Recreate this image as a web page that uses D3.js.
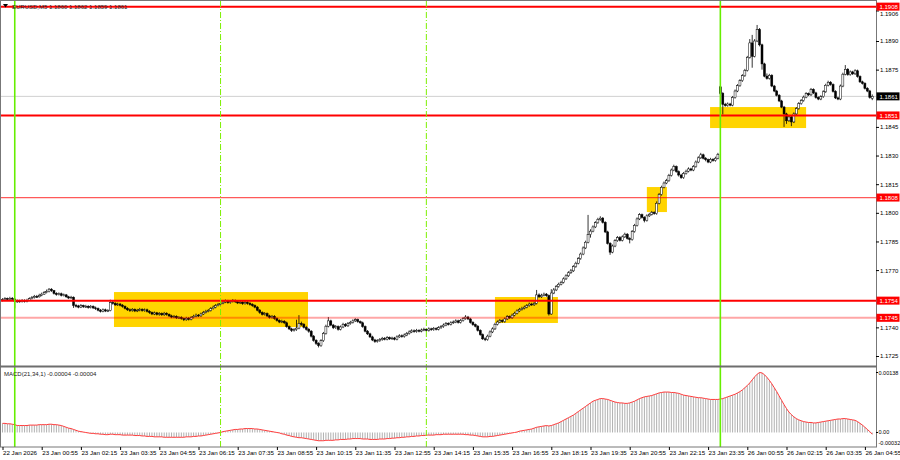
<!DOCTYPE html>
<html>
<head>
<meta charset="utf-8">
<script src="https://cdn.jsdelivr.net/npm/d3@7"></script>
<style>
body { margin: 0; background: #fff; }
svg text { font-family: "Liberation Sans", Arial, sans-serif; }
</style>
</head>
<body>
<div class="chart"></div>
<script>
// EURUSD M5 bars, prices as pips above 1.1700 (bar 0 = 22 Jan 23:35)
var openP = [
54,54.5,55,54.6,55.2,54.8,53.5,53.8,53.5,54,
53.6,54.2,55,55.6,56.2,56,56.8,57.4,58.2,58.8,
60,59.2,57.8,57.2,57.6,56.8,57,56,55.4,55.8,
51.5,51.2,50.6,51.4,50.8,51,50.4,51,50.2,49.8,
49,48.4,49.2,48.6,48.8,53,52.6,51.8,52.2,51.6,
51,50,49.2,48.8,49.4,48.6,49,49.4,48.8,49.2,
48.4,47.8,47,47.6,46.8,47.2,46.6,47.4,46.8,46,
45.4,45.8,45,45.2,44.6,44,44.8,44.2,45.2,45.8,
46.4,46,47,47.8,48.4,48.8,49.8,50.6,51.4,52,
52.6,53.2,53.8,53,53.6,54,53.4,52.8,53.2,52.4,
53,52.6,52,51.4,50.6,49,47.8,46.8,47.2,46,
45.2,45.8,44.6,43.6,42.8,43.2,42.4,40.4,39.2,38.4,
38.8,39.6,42,41.6,40,39,38,35.4,33.2,31.6,
30.4,33,36.8,40.6,43.4,41.2,39.8,40.4,39,40.2,
41.6,40.8,42,42.6,43.4,44,43,42.4,40.4,38,
36.6,35,33.4,32.6,33,33.6,34.2,33.8,34.6,34,
34.4,33.8,35,35.6,35.2,36,36.8,37.6,38.2,37.8,
38.4,38,38.6,39,38.4,39.2,38.8,39.4,39,39.8,
40.4,41.2,42,41.6,42.4,42.8,43.4,42.6,43.6,44.6,
45.4,44.4,42.6,41.4,40.6,38.4,36.2,34,33.6,35.4,
37.6,39.2,41.6,42.8,43.6,43,44.4,45.6,45,46.4,
47.4,48.6,49.4,50,50.6,51.4,52.2,51.8,52.6,57,
56,56.8,57.4,56.6,47,58,59.6,61.4,62.6,63.6,
65.4,67,68.6,69.6,71.8,73.6,76,78.4,81.6,84.6,
88.6,90.4,92.6,94.8,96.6,97.2,95,90,84,79.4,
82.6,85.4,87,85.6,87.4,88.8,86.6,86,90.2,93.4,
96.8,99,97.6,96,98.4,99.2,100.2,99.6,105,109.6,
113.4,115.6,116.8,119.6,122.4,124.2,121.6,119.8,118.4,120.6,
121.8,123,122.4,124.2,126.6,128.8,130.4,128.6,127.8,126.6,
128,127.4,128.6,166,162.6,156.8,156.2,157,156.4,160.4,
163.8,166.6,169.2,171.8,174.6,181.4,189,182,190,196,
188,178,171.6,170.4,172,166.4,163.8,161.6,158.6,155.4,
151.8,148.2,150.2,147.6,151.8,154.6,157.2,158.8,160.6,162.4,
161.8,164.6,162.8,160.4,159.6,160.8,163.4,166.8,168.4,167.2,
163.6,160.2,159.6,166.4,172.6,175.2,172.4,173.8,172.8,174.4,
171.4,168.6,167.8,165.2,163.8,160
];
var highP = [
55.3,55.8,55.6,56,55.9,55.2,54.6,54.5,54.8,54.7,
55,55.7,56.4,57,57,57.6,58.2,59,59.8,60.6,
60.5,59.6,58.4,58.3,58.2,57.7,57.5,56.5,56.5,56.2,
52.3,51.8,52.2,51.9,51.8,51.6,51.7,51.5,50.9,50.4,
49.6,49.9,49.8,49.5,54.5,53.8,53.2,52.9,52.8,52.2,
51.5,50.6,49.9,50.1,49.9,49.7,50.2,50,49.9,49.8,
49,48.3,48.3,48.1,48,47.8,48.1,47.9,47.3,46.6,
46.5,46.3,45.9,45.8,45.1,45.5,45.4,45.9,46.6,47.2,
47,47.7,48.6,49.2,49.6,50.6,51.4,52.2,52.8,53.4,
54,54.6,54.4,54.3,54.8,54.6,53.9,54,53.7,53.8,
53.7,53.2,52.6,52,51.2,49.6,48.4,48,47.8,46.6,
46.5,46.4,45.2,44.2,44,43.8,43,41,39.8,39.6,
44,46.4,43,42.2,40.8,39.6,38.6,36,33.8,32.2,
33.8,37.6,41.4,45.4,44,41.8,41.2,41,41,42.4,
42.2,42.8,43.4,44.2,44.8,44.6,43.6,43,41,38.6,
37.2,35.6,34,33.8,34.4,35,34.9,35.4,35.2,35.1,
35,35.8,36.4,36.3,36.8,37.6,38.4,39,38.9,39.2,
39,39.4,39.8,39.6,40,39.8,40.2,40,40.6,41.2,
42,42.8,42.6,43.2,43.6,44.2,44,44.4,45.4,46.4,
46,45,43.2,42,41.2,39,36.8,34.8,36.2,38.4,
40,42.4,43.6,44.4,44.2,45.2,46.4,46.2,47.2,48.2,
49.4,50.2,50.8,51.4,52.2,53,52.9,53.4,59.6,57.8,
57.6,58.2,58,57.2,60,60.6,62.2,63.4,64.4,66.2,
67.8,69.4,70.6,72.6,74.4,76.8,79.2,82.4,85.4,98.9,
91.4,93.4,95.6,97.4,98.2,97.8,95.6,90.6,84.6,83.4,
86.2,87.8,87.8,88.2,89.6,89.4,87.2,91,94.2,97.6,
99.8,99.6,98.2,99.2,100,101,100.8,106,110.4,114.2,
116.4,117.8,120.4,123.2,125.2,124.8,122.2,120.4,121.4,122.6,
123.8,123.6,125,127.4,129.6,131.4,131,129.2,128.4,128.8,
128.6,129.4,131.4,166.6,163.2,157.6,157.8,157.6,161.2,164.6,
167.4,170,172.6,175.4,182.2,191,193.2,191,198.4,196.8,
188.6,178.6,173,172.8,172.6,167,164.4,162.2,159.2,156,
152.4,151,150.8,152.6,155.4,158,159.6,161.4,163.2,163,
165.4,165.2,163.4,161,161.6,164.2,167.6,169.2,169,167.8,
164.2,160.8,167.2,173.4,177.4,175.8,174.6,174.4,175.2,175,
172,169.2,168.4,165.8,164.4,162
];
var lowP = [
53.6,54,53.8,54.2,54,50,52.8,52.9,53,53,
53.1,53.8,54.6,55.1,55.4,55.6,56.3,57,57.8,58.3,
58.6,57.2,56.6,56.7,56.2,56.2,55.5,54.8,55,50.2,
50.4,50,50.1,50.2,50.2,49.8,49.9,49.6,49.1,48.4,
47.8,47.9,48,48,48.4,51.9,51.2,51.2,51,50.3,
49.4,48.6,48.1,48.2,48,48,48.4,48.2,48.2,47.8,
47.1,46.4,46.4,46.2,46.1,46,46,46.1,45.4,44.8,
44.8,44.4,44.4,44,43.3,43.4,43.6,43.7,44.7,45.3,
45.4,45.5,46.5,47.3,47.9,48.3,49.3,50,51,51.5,
52.1,52.7,52.4,52.4,53,52.8,52.2,52.2,51.8,51.9,
51.9,51.4,50.8,50,48.4,47.1,46.2,46.2,45.4,44.6,
44.6,44,43,42.2,42.2,41.7,39.8,38.6,37.6,37.8,
38.2,39,40.8,39.4,38.3,37.2,34.7,32.5,30.8,29.5,
29.8,32.4,36.2,40,40.6,39.1,39.2,38.3,38.4,39.6,
40.2,40.2,41.4,42,42.8,42.4,41.8,39.8,37.4,36,
34.4,32.8,31.9,32,32.4,33,33.2,33.2,33.4,33.4,
33.2,33.2,34.5,34.6,34.6,35.4,36.2,37,37.2,37.2,
37.4,37.4,38,37.8,37.8,38.2,38.2,38.4,38.4,39.2,
39.8,40.6,41,41,41.8,42.2,42,42,43,44,
43.8,42,40.8,40,37.8,35.6,33.4,32.8,33,34.8,
37,38.6,41,42.2,42.4,42.4,43.8,44.4,44.4,45.8,
46.8,48,48.8,49.4,50,50.8,51.2,51.2,52,55.4,
55.4,56.2,56,46.2,46.6,57.4,59,60.8,62,63,
64.8,66.4,68,69,71.2,73,75.4,77.8,81,84,
87,89.8,92,94.2,95.8,94.4,89.4,83.4,78,78.8,
82,84.8,85,85,86.8,86,84,85.4,89.6,92.8,
96.2,97,95,95.4,97.8,98.6,99,99,104.4,109,
112.8,115,116.2,119,121.8,121,119,117.8,117.8,120,
121.2,121.8,121.8,123.6,126,128.2,128,127,126,126,
126.8,126.8,128,161.8,151.5,155.6,155.6,155.8,155.8,159.8,
163.2,166,168.6,171.2,174,180.8,176,181.4,189.4,187.2,
175,171,169.8,169.8,165.8,163.2,161,158,154.8,145,
146.6,147.6,145.4,147,151.2,154,156.6,158.2,160,161.2,
161.2,162.2,159.8,159,159,160.2,162.8,166.2,166.6,163,
159.6,159,159,165.8,172,171.8,171.8,172.2,172.2,170.8,
168,167.2,164.6,163.2,159.8,159
];
var closeP = [
54.5,55,54.6,55.2,54.8,53.5,53.8,53.5,54,53.6,
54.2,55,55.6,56.2,56,56.8,57.4,58.2,58.8,60,
59.2,57.8,57.2,57.6,56.8,57,56,55.4,55.8,51.5,
51.2,50.6,51.4,50.8,51,50.4,51,50.2,49.8,49,
48.4,49.2,48.6,48.8,53,52.6,51.8,52.2,51.6,51,
50,49.2,48.8,49.4,48.6,49,49.4,48.8,49.2,48.4,
47.8,47,47.6,46.8,47.2,46.6,47.4,46.8,46,45.4,
45.8,45,45.2,44.6,44,44.8,44.2,45.2,45.8,46.4,
46,47,47.8,48.4,48.8,49.8,50.6,51.4,52,52.6,
53.2,53.8,53,53.6,54,53.4,52.8,53.2,52.4,53,
52.6,52,51.4,50.6,49,47.8,46.8,47.2,46,45.2,
45.8,44.6,43.6,42.8,43.2,42.4,40.4,39.2,38.4,38.8,
39.6,42,41.6,40,39,38,35.4,33.2,31.6,30.4,
33,36.8,40.6,43.4,41.2,39.8,40.4,39,40.2,41.6,
40.8,42,42.6,43.4,44,43,42.4,40.4,38,36.6,
35,33.4,32.6,33,33.6,34.2,33.8,34.6,34,34.4,
33.8,35,35.6,35.2,36,36.8,37.6,38.2,37.8,38.4,
38,38.6,39,38.4,39.2,38.8,39.4,39,39.8,40.4,
41.2,42,41.6,42.4,42.8,43.4,42.6,43.6,44.6,45.4,
44.4,42.6,41.4,40.6,38.4,36.2,34,33.6,35.4,37.6,
39.2,41.6,42.8,43.6,43,44.4,45.6,45,46.4,47.4,
48.6,49.4,50,50.6,51.4,52.2,51.8,52.6,57,56,
56.8,57.4,56.6,47,58,59.6,61.4,62.6,63.6,65.4,
67,68.6,69.6,71.8,73.6,76,78.4,81.6,84.6,88.6,
90.4,92.6,94.8,96.6,97.2,95,90,84,79.4,82.6,
85.4,87,85.6,87.4,88.8,86.6,86,90.2,93.4,96.8,
99,97.6,96,98.4,99.2,100.2,99.6,105,109.6,113.4,
115.6,116.8,119.6,122.4,124.2,121.6,119.8,118.4,120.6,121.8,
123,122.4,124.2,126.6,128.8,130.4,128.6,127.8,126.6,128,
127.4,128.6,130.6,162.6,156.8,156.2,157,156.4,160.4,163.8,
166.6,169.2,171.8,174.6,181.4,189,182,190,196,188,
178,171.6,170.4,172,166.4,163.8,161.6,158.6,155.4,151.8,
148.2,150.2,147.6,151.8,154.6,157.2,158.8,160.6,162.4,161.8,
164.6,162.8,160.4,159.6,160.8,163.4,166.8,168.4,167.2,163.6,
160.2,159.6,166.4,172.6,175.2,172.4,173.8,172.8,174.4,171.4,
168.6,167.8,165.2,163.8,160.4,161
];
// MACD(21,34,1) main value per bar, in units of 0.00001
var macdE5 = [
21,21,20,20,19,18,16,16,16,16,
16,17,17,17,17,18,18,18,18,19,
19,18,18,17,16,14,12,10,9,7,
5,3,2,1,0,-1,-2,-2,-3,-3,
-4,-4,-5,-5,-4,-4,-5,-5,-5,-6,
-6,-6,-6,-6,-7,-7,-7,-8,-8,-9,
-9,-9,-10,-10,-10,-10,-11,-11,-11,-11,
-11,-11,-11,-11,-11,-10,-10,-10,-9,-9,
-8,-8,-7,-6,-5,-4,-3,-2,-1,0,
2,3,4,5,6,7,7,8,8,9,
9,9,9,8,8,7,6,5,4,3,
2,1,0,-1,-3,-4,-6,-7,-9,-10,
-11,-12,-12,-13,-14,-15,-16,-17,-18,-19,
-19,-19,-18,-18,-18,-18,-17,-17,-16,-16,
-16,-15,-15,-14,-14,-14,-14,-15,-15,-15,
-16,-16,-16,-16,-15,-15,-15,-14,-14,-13,
-13,-12,-12,-11,-11,-10,-10,-9,-9,-8,
-8,-7,-7,-6,-6,-6,-6,-5,-5,-5,
-4,-4,-4,-4,-4,-4,-4,-4,-4,-5,
-5,-6,-6,-7,-8,-9,-10,-10,-10,-9,
-9,-8,-7,-6,-5,-4,-3,-2,-1,0,
1,3,4,5,6,7,8,10,12,13,
14,15,16,15,16,18,20,22,25,28,
31,34,37,40,44,48,52,56,60,64,
68,72,74,76,78,78,77,76,74,72,
70,69,68,68,67,67,68,70,72,75,
78,80,82,83,84,85,87,89,91,92,
93,93,93,92,92,91,90,88,86,85,
84,83,82,81,80,80,79,78,77,76,
76,76,76,77,78,80,82,84,86,88,
91,94,98,103,108,114,121,128,134,138,
137,133,127,120,112,103,94,84,74,64,
55,47,41,36,32,29,27,25,24,23,
23,22,22,23,24,25,26,27,28,29,
30,31,31,32,32,31,30,29,28,25,
21,17,12,7,2,-4
];

// horizontal levels drawn on the chart
var levels = [1.1908, 1.1851, 1.1808, 1.1754, 1.1745];
var lastPrice = 1.1861;
// yellow zones: [first bar, last bar, top price, bottom price]
var zones = [
  [45.5, 124.7, 1.17585, 1.17402],
  [201, 226.7, 1.17559, 1.17423],
  [263, 271.2, 1.18135, 1.18004],
  [288.8, 328, 1.18554, 1.18444]
];
var dayBreaks = [5, 293];      // 23 Jan 00:00, 26 Jan 00:00
var sessionLines = [89, 173];  // 07:00, 14:00

var priceTicks = [1.1906, 1.1890, 1.1875, 1.1845, 1.1830, 1.1815, 1.1800, 1.1785, 1.1770, 1.1740, 1.1725];
var macdTicks = [0.00138, 0, -0.00032];
var macdTickLabels = ["0.00138", "0.00", "-0.00032"];
var timeTicks = [0,16,32,48,64,80,96,112,128,144,160,176,192,208,224,240,256,272,288,304,320,336,352];
var timeLabels = ["22 Jan 2026","23 Jan 00:55","23 Jan 02:15","23 Jan 03:35","23 Jan 04:55","23 Jan 06:15",
  "23 Jan 07:35","23 Jan 08:55","23 Jan 10:15","23 Jan 11:35","23 Jan 12:55","23 Jan 14:15","23 Jan 15:35",
  "23 Jan 16:55","23 Jan 18:15","23 Jan 19:35","23 Jan 20:55","23 Jan 22:15","23 Jan 23:35","26 Jan 00:55",
  "26 Jan 02:15","26 Jan 03:35","26 Jan 04:55"];

var title = "EURUSD,M5  1.1860 1.1862 1.1859 1.1861";
var macdTitle = "MACD(21,34,1) -0.00004 -0.00004";

// ---- setup
var toPrice = function(p){ return 1.17 + p / 10000; };
var bars = closeP.map(function(c, i){
  return {i: i, o: toPrice(openP[i]), h: toPrice(highP[i]), l: toPrice(lowP[i]), c: toPrice(c)};
});

var width = 900, height = 460, plotRight = 876;

var svg = d3.select(".chart").append("svg")
    .attr("width", width)
    .attr("height", height);

var x = d3.scaleLinear().domain([0, 355]).range([2.5, 872.25]);
var y = d3.scaleLinear().domain([1.1725, 1.1890]).range([356, 41]);
var ym = d3.scaleLinear().domain([-0.00032, 0.00138]).range([446.4, 372.5]);

var defs = svg.append("defs");
defs.append("clipPath").attr("id", "clipMain")
  .append("rect").attr("x", 1).attr("y", 1).attr("width", plotRight - 1).attr("height", 365);
defs.append("clipPath").attr("id", "clipMacd")
  .append("rect").attr("x", 1).attr("y", 368).attr("width", plotRight - 1).attr("height", 79);

var main = svg.append("g").attr("clip-path", "url(#clipMain)");

// zones
main.selectAll(".zone")
    .data(zones)
  .enter().append("rect")
    .attr("class", "zone")
    .attr("x", function(d){ return x(d[0]); })
    .attr("width", function(d){ return x(d[1]) - x(d[0]); })
    .attr("y", function(d){ return y(d[2]); })
    .attr("height", function(d){ return y(d[3]) - y(d[2]); })
    .attr("fill", "#ffd400");

// last price line
main.append("line")
    .attr("x1", 0).attr("x2", plotRight)
    .attr("y1", y(lastPrice)).attr("y2", y(lastPrice))
    .attr("stroke", "#d0d0d0").attr("stroke-width", 1);

// candles
var candle = main.selectAll(".bar")
    .data(bars)
  .enter().append("g")
    .attr("class", "bar");

candle.append("line")
    .attr("x1", function(d){ return x(d.i); })
    .attr("x2", function(d){ return x(d.i); })
    .attr("y1", function(d){ return y(d.h); })
    .attr("y2", function(d){ return y(d.l); })
    .attr("stroke", "#000").attr("stroke-width", 0.8);

candle.append("rect")
    .attr("x", function(d){ return x(d.i) - 1; })
    .attr("width", 2)
    .attr("y", function(d){ return y(Math.max(d.o, d.c)); })
    .attr("height", function(d){ return Math.max(0.8, Math.abs(y(d.o) - y(d.c))); })
    .attr("fill", function(d){ return d.c >= d.o ? "#fff" : "#000"; })
    .attr("stroke", "#000").attr("stroke-width", 0.5);

// horizontal levels
var levelStyle = [
  {c: "#ff0000", w: 2, o: 1},
  {c: "#ff0000", w: 2, o: 1},
  {c: "#ff0000", w: 1.2, o: 0.65},
  {c: "#ff0000", w: 2, o: 1},
  {c: "#ff0000", w: 2, o: 0.35}
];
main.selectAll(".level")
    .data(levels)
  .enter().append("line")
    .attr("class", "level")
    .attr("x1", 0).attr("x2", plotRight)
    .attr("y1", function(d){ return y(d); })
    .attr("y2", function(d){ return y(d); })
    .attr("stroke", function(d, i){ return levelStyle[i].c; })
    .attr("stroke-opacity", function(d, i){ return levelStyle[i].o; })
    .attr("stroke-width", function(d, i){ return levelStyle[i].w; });

// MACD panel
var macd = svg.append("g").attr("clip-path", "url(#clipMacd)");
macd.selectAll(".hist")
    .data(macdE5)
  .enter().append("line")
    .attr("class", "hist")
    .attr("x1", function(d, i){ return x(i); })
    .attr("x2", function(d, i){ return x(i); })
    .attr("y1", ym(0))
    .attr("y2", function(d){ return ym(d / 100000); })
    .attr("stroke", "#b0b0b0").attr("stroke-width", 1);

macd.append("path")
    .datum(macdE5)
    .attr("fill", "none")
    .attr("stroke", "#ff3b3b")
    .attr("stroke-width", 1)
    .attr("d", d3.line()
      .x(function(d, i){ return x(i); })
      .y(function(d){ return ym(d / 100000); }));

// vertical separators (both panels)
svg.selectAll(".daybreak")
    .data(dayBreaks)
  .enter().append("line")
    .attr("class", "daybreak")
    .attr("x1", function(d){ return x(d); })
    .attr("x2", function(d){ return x(d); })
    .attr("y1", 1).attr("y2", 447)
    .attr("stroke", "#66ee00").attr("stroke-width", 1.6);

svg.selectAll(".session")
    .data(sessionLines)
  .enter().append("line")
    .attr("class", "session")
    .attr("x1", function(d){ return x(d); })
    .attr("x2", function(d){ return x(d); })
    .attr("y1", 1).attr("y2", 447)
    .attr("stroke", "#7cf000").attr("stroke-width", 1)
    .attr("stroke-dasharray", "6,2,1,2");

// frames
svg.append("rect").attr("x", 0.5).attr("y", 0.5).attr("width", plotRight).attr("height", 446.5)
    .attr("fill", "none").attr("stroke", "#777").attr("stroke-width", 1);
svg.append("rect").attr("x", 0).attr("y", 365.5).attr("width", plotRight + 1).attr("height", 2)
    .attr("fill", "#6e6e6e");

// price axis
var yAxis = d3.axisRight(y)
    .tickValues(priceTicks)
    .tickSize(3)
    .tickPadding(1)
    .tickFormat(d3.format(".4f"));

var gy = svg.append("g")
    .attr("class", "y axis")
    .attr("transform", "translate(" + plotRight + ",0)")
    .call(yAxis);
gy.select(".domain").remove();
gy.selectAll("text").attr("font-size", "6px").attr("fill", "#000");
gy.selectAll("line").attr("stroke", "#000");
// top label sits just under the 1.1908 tag
gy.selectAll(".tick").filter(function(d){ return d === priceTicks[0]; })
    .select("text").attr("y", 3.2);

// level tags on the price axis
var tags = svg.selectAll(".tag")
    .data(levels)
  .enter().append("g")
    .attr("class", "tag")
    .attr("transform", function(d){ return "translate(" + plotRight + "," + y(d) + ")"; });
tags.append("rect")
    .attr("x", 0.5).attr("y", -4).attr("width", 23).attr("height", 8)
    .attr("fill", "#ff0000");
tags.append("text")
    .attr("x", 3.5).attr("y", 2.2)
    .attr("font-size", "6px").attr("fill", "#fff")
    .text(function(d){ return d3.format(".4f")(d); });

var lastTag = svg.append("g")
    .attr("transform", "translate(" + plotRight + "," + y(lastPrice) + ")");
lastTag.append("rect")
    .attr("x", 0.5).attr("y", -4).attr("width", 23).attr("height", 8)
    .attr("fill", "#000");
lastTag.append("text")
    .attr("x", 3.5).attr("y", 2.2)
    .attr("font-size", "6px").attr("fill", "#fff")
    .text(d3.format(".4f")(lastPrice));

// MACD axis
var gm = svg.append("g").attr("transform", "translate(" + plotRight + ",0)");
gm.selectAll("text")
    .data(macdTicks)
  .enter().append("text")
    .attr("x", 2.5)
    .attr("y", function(d){ return Math.min(ym(d), 442.5) + 2; })
    .attr("font-size", "5.5px").attr("fill", "#000")
    .text(function(d, i){ return macdTickLabels[i]; });
gm.selectAll("line")
    .data(macdTicks.slice(0, 2))
  .enter().append("line")
    .attr("x1", 0).attr("x2", 2)
    .attr("y1", function(d){ return ym(d); })
    .attr("y2", function(d){ return ym(d); })
    .attr("stroke", "#000");

// time axis
var xAxis = d3.axisBottom(x)
    .tickValues(timeTicks)
    .tickSize(3)
    .tickPadding(1)
    .tickFormat(function(d, i){ return timeLabels[i]; });

var gx = svg.append("g")
    .attr("class", "x axis")
    .attr("transform", "translate(0,447)")
    .call(xAxis);
gx.select(".domain").remove();
gx.selectAll("text")
    .attr("font-size", "6.2px").attr("fill", "#000")
    .style("text-anchor", "start");
gx.selectAll("line").attr("stroke", "#000");

// titles
svg.append("path")
    .attr("d", "M3,4 L8,4 L5.5,7.5 Z")
    .attr("fill", "#000");
svg.append("text")
    .attr("x", 12).attr("y", 8.5)
    .attr("font-size", "6px").attr("fill", "#222")
    .text(title);
svg.append("text")
    .attr("x", 4).attr("y", 375.5)
    .attr("font-size", "6px").attr("fill", "#222")
    .text(macdTitle);
</script>
</body>
</html>
